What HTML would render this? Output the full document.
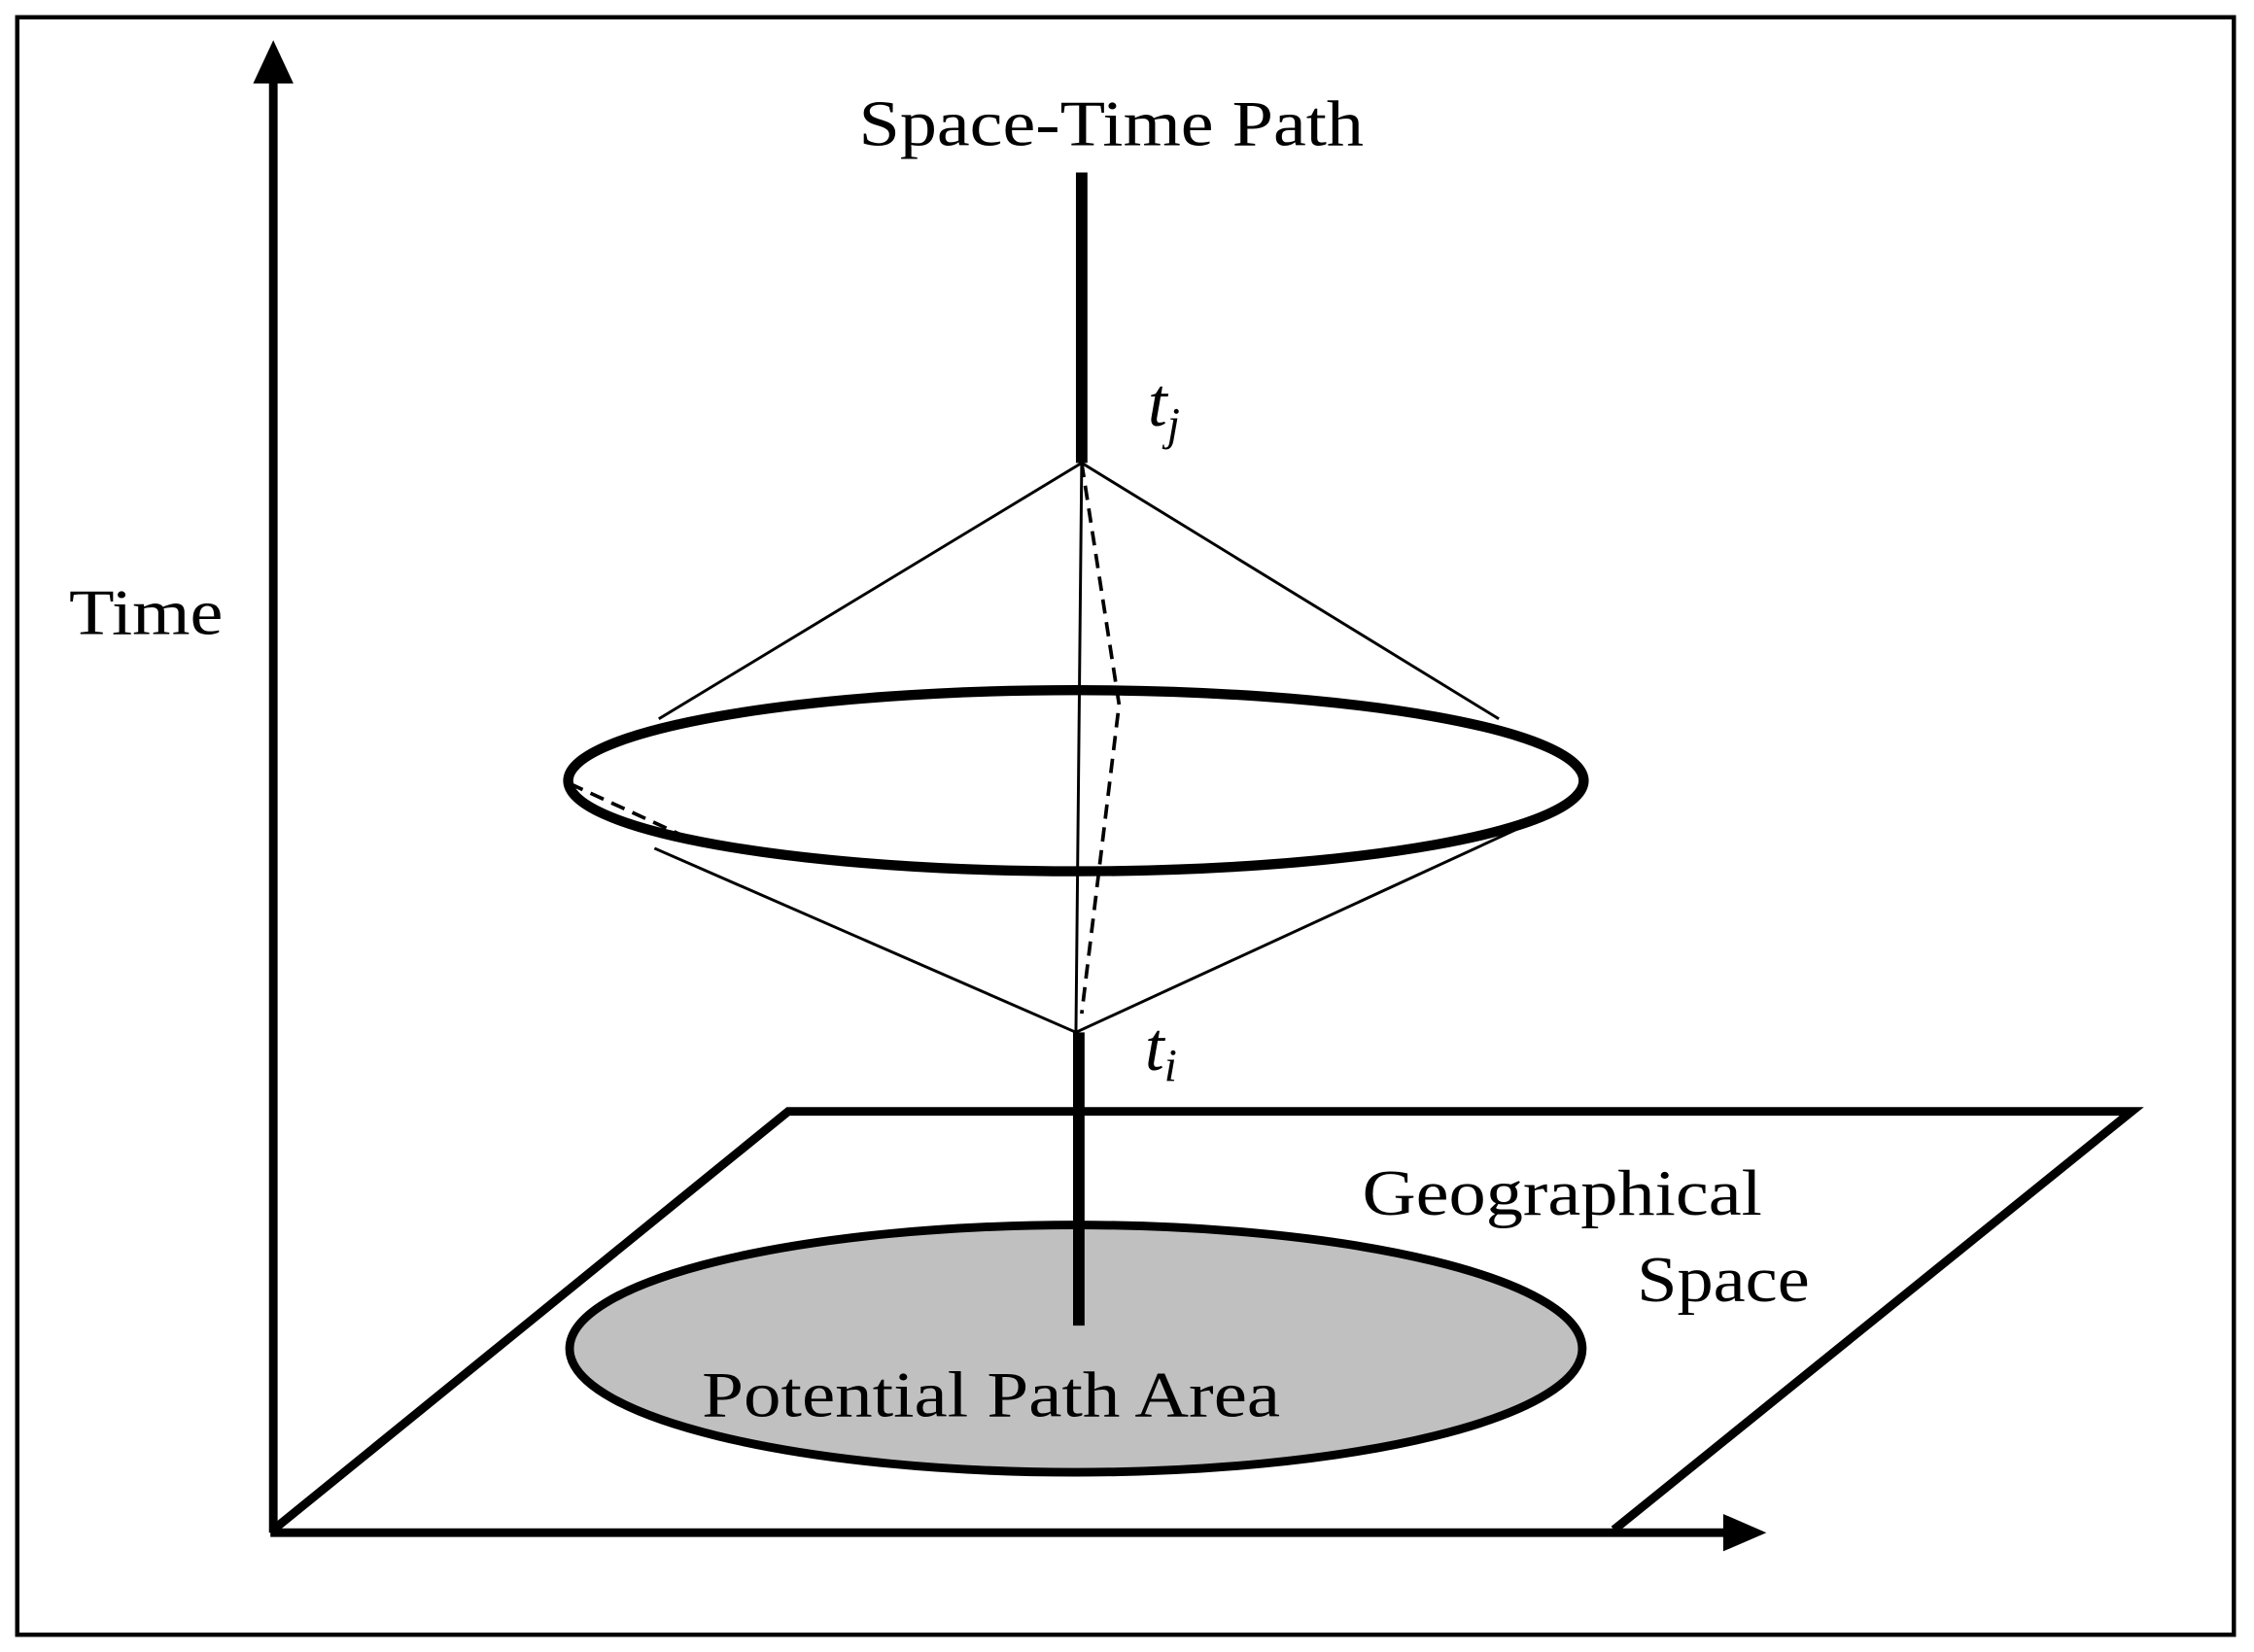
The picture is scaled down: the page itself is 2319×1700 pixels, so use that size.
<!DOCTYPE html>
<html><head><meta charset="utf-8"><style>html,body{margin:0;padding:0;background:#fff}svg{display:block}</style></head>
<body>
<svg width="2319" height="1700" viewBox="0 0 1567 1149" preserveAspectRatio="none" xmlns="http://www.w3.org/2000/svg">
<rect x="12" y="12" width="1541" height="1125" fill="#fff" stroke="#000" stroke-width="3"/>
<line x1="190" y1="1066" x2="190" y2="50" stroke="#000" stroke-width="6"/>
<polygon points="190,28 176,58 204,58" fill="#000"/>
<line x1="188" y1="1066" x2="1205" y2="1066" stroke="#000" stroke-width="6"/>
<polygon points="1228,1066 1198,1053 1198,1079" fill="#000"/>
<polyline points="190,1064 548,773 1482,773 1122,1064" fill="none" stroke="#000" stroke-width="6"/>
<ellipse cx="748" cy="938" rx="352" ry="86" fill="#c0c0c0" stroke="#000" stroke-width="6"/>
<line x1="752" y1="120" x2="752" y2="322" stroke="#000" stroke-width="8"/>
<line x1="750" y1="718" x2="750" y2="922" stroke="#000" stroke-width="8"/>
<line x1="752" y1="322" x2="748" y2="718" stroke="#000" stroke-width="2"/>
<line x1="752" y1="322" x2="458" y2="500" stroke="#000" stroke-width="2"/>
<line x1="752" y1="322" x2="1042" y2="500" stroke="#000" stroke-width="2"/>
<line x1="748" y1="718" x2="455" y2="590" stroke="#000" stroke-width="2"/>
<line x1="748" y1="718" x2="1080" y2="565" stroke="#000" stroke-width="2"/>
<polyline points="752,322 778,490 752,705" fill="none" stroke="#000" stroke-width="2.5" stroke-dasharray="10,6"/>
<line x1="396" y1="545" x2="472" y2="580" stroke="#000" stroke-width="2.5" stroke-dasharray="10,6"/>
<ellipse cx="748" cy="543" rx="353" ry="63" fill="none" stroke="#000" stroke-width="7"/>
<g font-family="Liberation Serif, serif" fill="#000">
<text x="597" y="101" font-size="45" textLength="351" lengthAdjust="spacingAndGlyphs">Space-Time Path</text>
<text x="798" y="296" font-size="48" font-style="italic">t<tspan font-size="32" dy="10">j</tspan></text>
<text x="796" y="744" font-size="48" font-style="italic">t<tspan font-size="32" dy="8">i</tspan></text>
<text x="48" y="441" font-size="45" textLength="107" lengthAdjust="spacingAndGlyphs">Time</text>
<text x="947" y="845" font-size="45" textLength="278" lengthAdjust="spacingAndGlyphs">Geographical</text>
<text x="1138" y="905" font-size="45" textLength="120" lengthAdjust="spacingAndGlyphs">Space</text>
<text x="488" y="985" font-size="45" textLength="402" lengthAdjust="spacingAndGlyphs">Potential Path Area</text>
</g>
</svg>
</body></html>
